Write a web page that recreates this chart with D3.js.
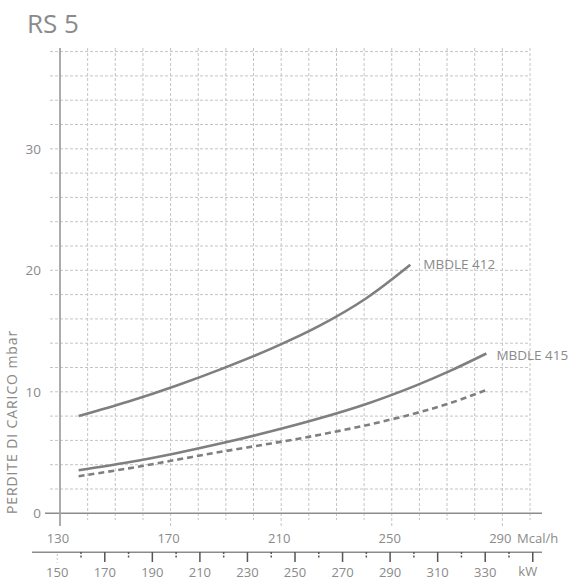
<!DOCTYPE html>
<html><head><meta charset="utf-8">
<script src="https://cdn.jsdelivr.net/npm/d3@7"></script>
<style>
html,body{margin:0;padding:0;background:#fff;}
svg{display:block;font-family:"Open Sans",sans-serif;}
</style></head>
<body><svg id="c" width="568" height="580"></svg>
<script>
const title = "RS 5";
const yTitle = "PERDITE DI CARICO mbar";
const yTicks = [0, 10, 20, 30];
const mcalTicks = [130, 170, 210, 250, 290];
const kwLabelTicks = [150, 170, 190, 210, 230, 250, 270, 290, 310, 330];
const kwMajorTicks = [170, 190, 210, 230, 250, 270, 290, 310, 330, 350];
const kwMinorTicks = [160, 180, 200, 220, 240, 260, 280, 300, 320, 340];
const kwFactor = 0.86;
const seriesNames = ["MBDLE 412", "MBDLE 415", ""];
const kw412 = [159, 180, 200, 220, 240, 260, 280, 298.5];
const val412 = [8.0, 9.2, 10.5, 11.95, 13.55, 15.4, 17.7, 20.45];
const kw415 = [159, 180, 200, 220, 240, 260, 280, 300, 315, 330.5];
const val415 = [3.55, 4.2, 4.95, 5.8, 6.75, 7.8, 9.0, 10.45, 11.7, 13.15];
const kwDash = [159, 180, 200, 220, 240, 260, 280, 300, 315, 330.5];
const valDash = [3.05, 3.7, 4.4, 5.1, 5.75, 6.45, 7.25, 8.2, 9.05, 10.15];

const svg = d3.select("#c");
const x = d3.scaleLinear().domain([130, 300]).range([60, 530]);
const y = d3.scaleLinear().domain([0, 38]).range([513.3, 51.6]);
const xk = v => x(v * kwFactor);
const grey = "#8a8a8a";

// grid
const hVals = d3.range(2, 39, 2);
svg.append("g").selectAll("line").data(hVals).join("line")
  .attr("x1", 50).attr("x2", x(300))
  .attr("y1", d => y(d)).attr("y2", d => y(d))
  .attr("stroke", "#c4c4c4").attr("stroke-width", 1).attr("stroke-dasharray", "3,2");
const vVals = d3.range(140, 301, 10);
svg.append("g").selectAll("line").data(vVals).join("line")
  .attr("x1", d => x(d)).attr("x2", d => x(d))
  .attr("y1", 48).attr("y2", d => mcalTicks.includes(d) ? 526 : 520)
  .attr("stroke", "#c4c4c4").attr("stroke-width", 1).attr("stroke-dasharray", "3,2");

// axes lines
svg.append("line").attr("x1", 45).attr("x2", 542).attr("y1", y(0)).attr("y2", y(0))
  .attr("stroke", "#8c8c8c").attr("stroke-width", 1.5);
svg.append("line").attr("x1", x(130)).attr("x2", x(130)).attr("y1", 48).attr("y2", 526)
  .attr("stroke", "#a4a4a4").attr("stroke-width", 1.8);

// y labels
svg.append("g").selectAll("text").data(yTicks).join("text")
  .attr("x", 41).attr("y", d => y(d)).attr("dy", "0.36em")
  .attr("text-anchor", "end").attr("fill", grey).attr("font-size", 13.5).text(d => d);

// mcal labels
svg.append("g").selectAll("text").data(mcalTicks).join("text")
  .attr("x", d => x(d) - 2).attr("y", 542.5).attr("text-anchor", "middle")
  .attr("fill", grey).attr("font-size", 13).text(d => d);
svg.append("text").attr("x", 517).attr("y", 542.5).attr("fill", grey)
  .attr("font-size", 13).text("Mcal/h");

// kW axis
svg.append("line").attr("x1", 32).attr("x2", 542).attr("y1", 552.3).attr("y2", 552.3)
  .attr("stroke", "#8c8c8c").attr("stroke-width", 1.5);
svg.append("g").selectAll("line").data(kwMajorTicks).join("line")
  .attr("x1", d => xk(d)).attr("x2", d => xk(d)).attr("y1", 552).attr("y2", 562)
  .attr("stroke", "#555").attr("stroke-width", 1.5);
svg.append("g").selectAll("line").data(kwMinorTicks).join("line")
  .attr("x1", d => xk(d)).attr("x2", d => xk(d)).attr("y1", 552).attr("y2", 559)
  .attr("stroke", "#555").attr("stroke-width", 1.5).attr("stroke-dasharray", "2,1.5");
svg.append("line").attr("x1", xk(150)).attr("x2", xk(150)).attr("y1", 554).attr("y2", 563)
  .attr("stroke", "#c4c4c4").attr("stroke-width", 1).attr("stroke-dasharray", "2,2");
svg.append("g").selectAll("text").data(kwLabelTicks).join("text")
  .attr("x", d => xk(d)).attr("y", 577).attr("text-anchor", "middle")
  .attr("fill", grey).attr("font-size", 13).text(d => d);
svg.append("text").attr("x", xk(350) - 5).attr("y", 576).attr("text-anchor", "middle")
  .attr("fill", grey).attr("font-size", 13).text("kW");

// title
svg.append("text").attr("x", 27).attr("y", 33).attr("fill", grey)
  .attr("font-size", 26).text(title);
// y title
svg.append("text").attr("transform", "translate(17,422) rotate(-90)")
  .attr("text-anchor", "middle").attr("fill", grey).attr("font-size", 14)
  .attr("letter-spacing", 0.9).text(yTitle);

// curves
const line = d3.line().x(d => xk(d[0])).y(d => y(d[1])).curve(d3.curveCatmullRom.alpha(0.5));
const s412 = d3.zip(kw412, val412), s415 = d3.zip(kw415, val415), sD = d3.zip(kwDash, valDash);
svg.append("path").datum(s412).attr("d", line).attr("fill", "none")
  .attr("stroke", "#7f7f7f").attr("stroke-width", 2.6);
svg.append("path").datum(s415).attr("d", line).attr("fill", "none")
  .attr("stroke", "#7f7f7f").attr("stroke-width", 2.6);
svg.append("path").datum(sD).attr("d", line).attr("fill", "none")
  .attr("stroke", "#7f7f7f").attr("stroke-width", 2.6).attr("stroke-dasharray", "6,4");

// series labels
const l412 = s412[s412.length - 1], l415 = s415[s415.length - 1];
svg.append("text").attr("x", xk(l412[0]) + 13).attr("y", y(l412[1])).attr("dy", "0.3em")
  .attr("fill", grey).attr("font-size", 13.5).text(seriesNames[0]);
svg.append("text").attr("x", xk(l415[0]) + 10).attr("y", y(l415[1])).attr("dy", "0.45em")
  .attr("fill", grey).attr("font-size", 13.5).text(seriesNames[1]);
</script></body></html>
